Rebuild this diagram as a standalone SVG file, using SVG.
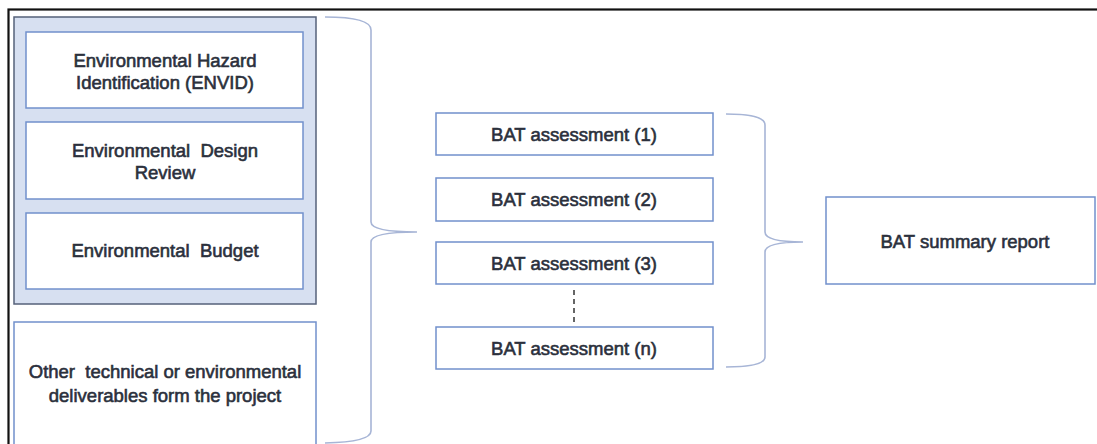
<svg xmlns="http://www.w3.org/2000/svg" width="1097" height="444" viewBox="0 0 1097 444">
<style>
.box{fill:#fff;stroke:#7290cc;stroke-width:1.5}
.grp{fill:#d7e0f1;stroke:#56627a;stroke-width:1.5}
.t{font-family:"Liberation Sans",Arial,sans-serif;font-size:18.5px;fill:#2b303c;stroke:#2b303c;stroke-width:0.6;text-anchor:middle;white-space:pre}
.br{fill:none;stroke:#a7b5d6;stroke-width:1.6}
.dash{stroke:#333;stroke-width:1.5;stroke-dasharray:5,4}
</style>
<rect x="8.5" y="9.5" width="1100" height="450" fill="#fff" stroke="#111" stroke-width="2.2"/>
<g id="group-env">
<rect class="grp" x="14" y="17" width="302" height="287"/>
</g>
<g id="envid">
<rect class="box" x="26" y="32" width="277" height="76"/>
<text class="t" x="165" y="67">Environmental Hazard</text>
<text class="t" x="165" y="89">Identification (ENVID)</text>
</g>
<g id="design-review">
<rect class="box" x="26" y="122" width="277" height="77"/>
<text class="t" x="165" y="157">Environmental  Design</text>
<text class="t" x="165" y="179">Review</text>
</g>
<g id="budget">
<rect class="box" x="26" y="213" width="277" height="76"/>
<text class="t" x="165" y="257">Environmental  Budget</text>
</g>
<g id="other">
<rect class="box" x="14" y="322" width="302" height="140"/>
<text class="t" x="165" y="378">Other  technical or environmental</text>
<text class="t" x="165" y="402">deliverables form the project</text>
</g>
<g id="bat1">
<rect class="box" x="436" y="113" width="277" height="42"/>
<text class="t" x="574" y="141">BAT assessment (1)</text>
</g>
<g id="bat2">
<rect class="box" x="436" y="178" width="277" height="43"/>
<text class="t" x="574" y="206">BAT assessment (2)</text>
</g>
<g id="bat3">
<rect class="box" x="436" y="242" width="277" height="42"/>
<text class="t" x="574" y="270">BAT assessment (3)</text>
</g>
<g id="batn">
<rect class="box" x="436" y="327" width="277" height="42"/>
<text class="t" x="574" y="355">BAT assessment (n)</text>
</g>
<g id="summary">
<rect class="box" x="826" y="197" width="269" height="87"/>
<text class="t" x="965" y="248">BAT summary report</text>
</g>
<g id="connectors">
<path class="br" d="M325,17 Q371,17 371,30 L371,222 Q371,232 417,232 Q371,232 371,242 L371,431 Q371,442 325,443"/>
<path class="br" d="M726,114 Q765,114 765,125 L765,232 Q765,242 803,242 Q765,242 765,252 L765,357 Q765,367 726,367"/>
<line class="dash" x1="574" y1="290" x2="574" y2="324"/>
</g>
</svg>
